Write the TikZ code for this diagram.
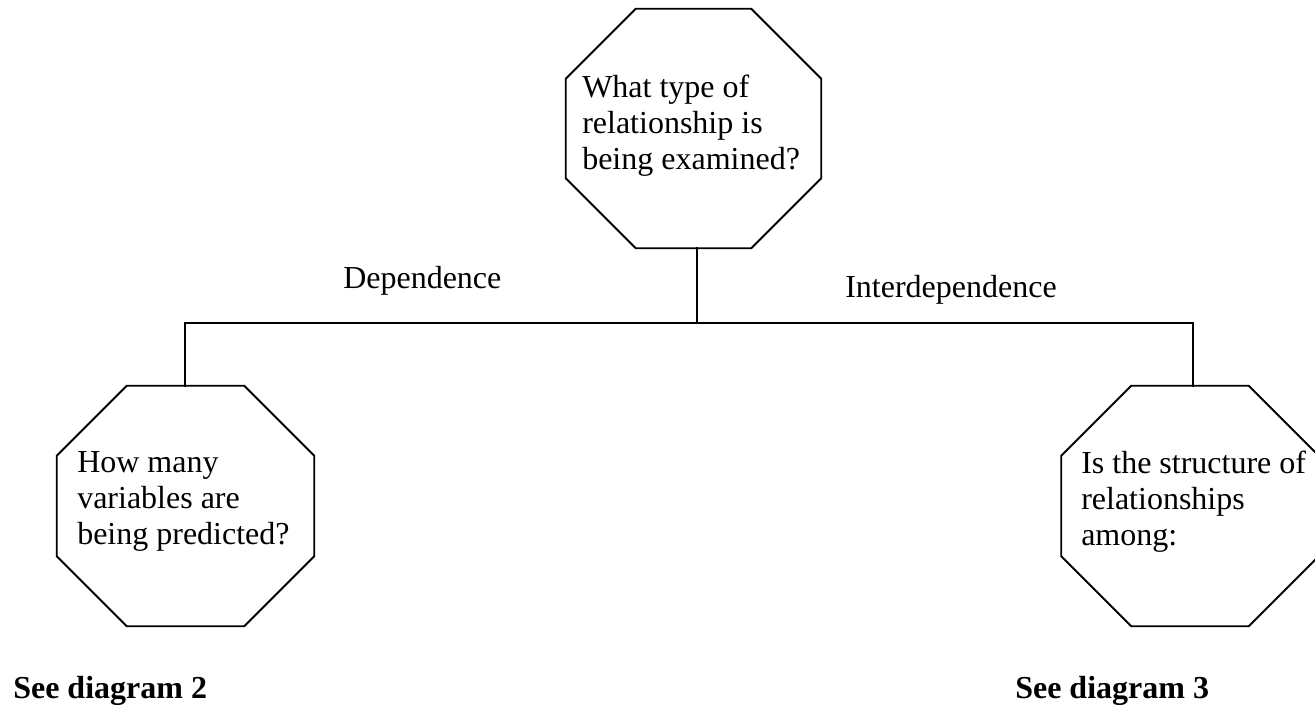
\documentclass[tikz,border=0pt]{standalone}
\usepackage{fontspec}
\setmainfont{Liberation Serif}
\usetikzlibrary{calc}

\tikzset{
  octbox/.style={draw=none, inner sep=0pt, minimum width=#1*0.75pt, minimum height=240*0.75pt},
  octbox/.default=256,
  qtext/.style={anchor=base west, inner sep=0pt, align=left,
    font=\fontsize{24}{27}\selectfont},
  branchlabel/.style={anchor=base west, inner sep=0pt, font=\fontsize{24}{27}\selectfont},
  seelabel/.style={anchor=base west, inner sep=0pt, font=\fontsize{24}{27}\selectfont\bfseries},
  link/.style={line width=1.5pt, line cap=rect},
  octline/.style={line width=1.4pt, line join=miter}
}

% chamfered outline around a named box, corner cut #2 (picture units)
\newcommand{\octoutline}[2]{%
  \draw[octline]
    ([shift={(#2,0)}]#1.north west) -- ([shift={(-#2,0)}]#1.north east)
    -- ([shift={(0,#2)}]#1.north east) -- ([shift={(0,-#2)}]#1.south east)
    -- ([shift={(-#2,0)}]#1.south east) -- ([shift={(#2,0)}]#1.south west)
    -- ([shift={(0,-#2)}]#1.south west) -- ([shift={(0,#2)}]#1.north west)
    -- cycle;}

\begin{document}
\begin{tikzpicture}[x=0.75pt, y=-0.75pt]
  \useasboundingbox (0,0) rectangle (1315,715);
  \clip (0,0) rectangle (1315,715);

  % question boxes
  \node[octbox=255, minimum height=239*0.75pt] (q1) at (693.5,128.5) {};
  \node[octbox=257] (q2) at (185.5,506) {};
  \node[octbox=257] (q3) at (1190,506) {};
  \octoutline{q1}{70}
  \octoutline{q2}{70}
  \octoutline{q3}{70}

  % questions (anchored at the baseline of the last line)
  \node[qtext] (t1) at (582,169) {What type of\\relationship is\\being examined?};
  \node[qtext] (t2) at (77,544) {How many\\variables are\\being predicted?};
  \node[qtext] (t3) at (1081,545) {Is the structure of\\relationships\\among:};

  % branching connector
  \coordinate (j) at (696.5,322.5);
  \coordinate (l) at (185,322.5);
  \coordinate (r) at (1193,322.5);
  \draw[link] (q1.south -| j) -- (j);
  \draw[link] (l |- q2.north) -- (l) -- (r) -- (r |- q3.north);

  % branch labels
  \node[branchlabel] (dep) at (343,288) {Dependence};
  \node[branchlabel] (indep) at (845,297) {Interdependence};

  % references
  \node[seelabel] (see2) at (13,698) {See diagram 2};
  \node[seelabel] (see3) at (1015,698) {See diagram 3};
\end{tikzpicture}
\end{document}
